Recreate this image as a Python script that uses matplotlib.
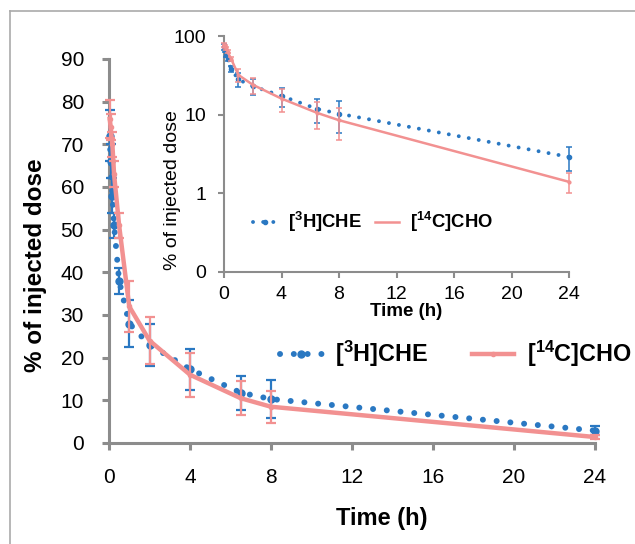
import numpy as np
import matplotlib
matplotlib.use("Agg")
import matplotlib.pyplot as plt
from matplotlib.lines import Line2D
from matplotlib.ticker import FixedLocator, FixedFormatter, NullLocator

plt.rcParams['font.family'] = ['Liberation Sans', 'DejaVu Sans']
plt.rcParams['mathtext.fontset'] = 'custom'
plt.rcParams['mathtext.rm'] = 'Liberation Sans'
plt.rcParams['mathtext.bf'] = 'Liberation Sans:bold'

# data
time_h = [0.033, 0.083, 0.167, 0.25, 0.5, 1, 2, 4, 6.5, 8, 24]
che = [72, 66, 58, 51, 38, 28, 23, 17.3, 11.8, 10.3, 2.9]
che_err = [6, 4, 4, 3, 3, 5.5, 5, 4.8, 4.0, 4.5, 1.0]
cho = [76, 74, 70, 63, 51, 32, 24, 16, 10.5, 8.5, 1.4]
cho_err = [4.5, 3, 3, 3, 3, 6, 5.5, 5.2, 4.0, 3.8, 0.4]

che_label = r"[$^{\mathbf{3}}$H]CHE"
cho_label = r"[$^{\mathbf{14}}$C]CHO"

blue = '#2A78C2'
pink = '#F29191'
axis_gray = '#8C8C8C'

W, H = 635, 544
fig = plt.figure(figsize=(W/100, H/100), dpi=100)

# frame around the figure (left + top only, as in the reference)
fig.add_artist(Line2D([10/W, 10/W], [0, 1 - 11/H], color='#AAAAAA', lw=1.2))
fig.add_artist(Line2D([10/W, 1], [1 - 11/H, 1 - 11/H], color='#AAAAAA', lw=1.2))


def style_axes(ax, lw, ticklen):
    for s in ['top', 'right']:
        ax.spines[s].set_visible(False)
    for s in ['left', 'bottom']:
        ax.spines[s].set_color(axis_gray)
        ax.spines[s].set_linewidth(lw)
    ax.tick_params(color=axis_gray, width=lw, length=ticklen, direction='out')


"""
main plot
"""
ax = fig.add_axes([109/W, 1 - 443/H, (595 - 109)/W, (443 - 59)/H])
ax.errorbar(time_h, che, yerr=che_err, color=blue, lw=4.3, ls=(0, (0.01, 2.3)),
            dash_capstyle='round', marker='o', ms=5, ecolor=blue, elinewidth=1.6,
            capsize=3.5, capthick=1.6, clip_on=False, zorder=3)
ax.errorbar(time_h, cho, yerr=cho_err, color=pink, lw=3.2, marker='o', ms=3,
            ecolor=pink, elinewidth=1.6, capsize=3.5, capthick=1.6,
            clip_on=False, zorder=4)
ax.set_xlim(0, 24)
ax.set_ylim(0, 90)
ax.set_xticks(np.arange(0, 25, 4))
ax.set_yticks(np.arange(0, 91, 10))
style_axes(ax, 2.2, 5)
ax.tick_params(labelsize=15, pad=13)
ax.set_xlabel('Time (h)', fontsize=17, fontweight='bold')
ax.xaxis.set_label_coords((382 - 109)/486, (443 - 507)/384)
ax.set_ylabel('% of injected dose', fontsize=17.5, fontweight='bold')
ax.yaxis.set_label_coords((47 - 109)/486, (443 - 265)/384)

h1 = Line2D([], [], color=blue, lw=4.3, ls=(0, (0.01, 2.3)), dash_capstyle='round',
            marker='o', ms=5)
h2 = Line2D([], [], color=pink, lw=3.2, marker='o', ms=3)
fig.legend([h1, h2], [che_label, cho_label], loc='center left', ncol=2,
           bbox_to_anchor=(259/W, 1 - 354/H), frameon=False,
           prop={'size': 16.8, 'weight': 'bold'}, handlelength=1.8,
           columnspacing=1.9, handletextpad=0.55)

"""
inset (log scale)
"""
ins = fig.add_axes([224/W, 1 - 272/H, (569 - 224)/W, (272 - 36)/H])
ins.errorbar(time_h, che, yerr=che_err, color=blue, lw=2.8, ls=(0, (0.01, 2.6)),
             dash_capstyle='round', marker='o', ms=3, ecolor=blue, elinewidth=1.1,
             capsize=2.5, capthick=1.1, clip_on=False, zorder=3)
ins.errorbar(time_h, cho, yerr=cho_err, color=pink, lw=1.8, marker='o', ms=2,
             ecolor=pink, elinewidth=1.1, capsize=2.5, capthick=1.1,
             clip_on=False, zorder=4)
ins.set_yscale('log')
ins.set_xlim(0, 24)
ins.set_ylim(0.1, 100)
ins.set_xticks(np.arange(0, 25, 4))
ins.yaxis.set_major_locator(FixedLocator([0.1, 1, 10, 100]))
ins.yaxis.set_major_formatter(FixedFormatter(['0', '1', '10', '100']))
ins.yaxis.set_minor_locator(NullLocator())
style_axes(ins, 1.5, 4)
ins.tick_params(labelsize=14)
ins.tick_params(axis='y', pad=9)
ins.tick_params(axis='x', pad=6)
ins.set_xlabel('Time (h)', fontsize=13.5, fontweight='bold')
ins.xaxis.set_label_coords((406 - 224)/345, (272 - 303)/236)
ins.set_ylabel('% of injected dose', fontsize=14)
ins.yaxis.set_label_coords((181 - 224)/345, (272 - 190)/236)

g1 = Line2D([], [], color=blue, lw=2.8, ls=(0, (0.01, 2.6)), dash_capstyle='round',
            marker='o', ms=3)
g2 = Line2D([], [], color=pink, lw=1.8)
ins.legend([g1, g2], [che_label, cho_label], loc='center left', ncol=2,
           bbox_to_anchor=((236 - 224)/345, (272 - 222)/236), frameon=False,
           prop={'size': 13.3, 'weight': 'bold'}, handlelength=1.3,
           columnspacing=0.7, handletextpad=0.6)

plt.savefig('out.png', dpi=100)
